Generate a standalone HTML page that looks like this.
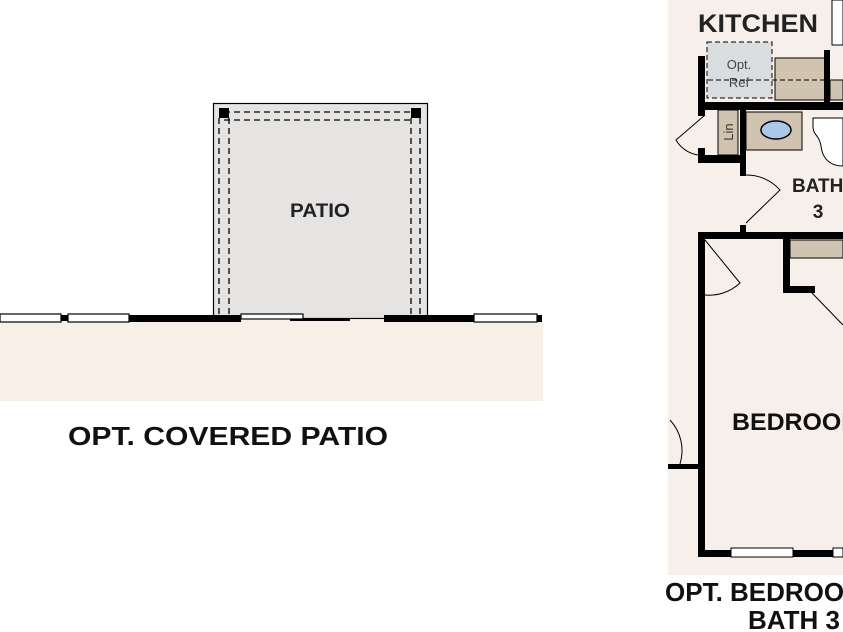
<!DOCTYPE html>
<html><head><meta charset="utf-8"><style>html,body{margin:0;padding:0;background:#fff}svg{display:block}</style></head>
<body>
<svg width="843" height="632" viewBox="0 0 843 632" xmlns="http://www.w3.org/2000/svg" font-family="Liberation Sans, Arial, sans-serif" font-weight="bold">
<rect x="0" y="0" width="843" height="632" fill="#fff"/>
<rect x="0" y="320" width="543" height="81" fill="#f8f0e7"/>
<rect x="213.5" y="103.5" width="214" height="215" fill="#e6e4e3" stroke="#000" stroke-width="1.2"/>
<g stroke="#000" stroke-width="1.3" stroke-dasharray="6,4" fill="none">
<line x1="224" y1="112" x2="414" y2="112"/>
<line x1="224" y1="120" x2="414" y2="120"/>
<line x1="219" y1="118" x2="219" y2="316"/>
<line x1="229" y1="118" x2="229" y2="316"/>
<line x1="411" y1="118" x2="411" y2="316"/>
<line x1="420" y1="118" x2="420" y2="316"/>
</g>
<rect x="219" y="108" width="10" height="10" fill="#000"/>
<rect x="411" y="108" width="10" height="10" fill="#000"/>
<text x="290" y="217" font-size="19" textLength="60" lengthAdjust="spacingAndGlyphs" fill="#222">PATIO</text>
<rect x="128" y="315" width="113" height="7" fill="#000"/>
<rect x="384" y="315" width="92" height="7" fill="#000"/>
<rect x="536" y="315" width="6" height="7" fill="#000"/>
<rect x="61" y="315" width="8" height="6" fill="#000"/>
<g fill="#fff" stroke="#000" stroke-width="1.2">
<rect x="0" y="314" width="61" height="8"/>
<rect x="68" y="314" width="61" height="8"/>
<rect x="474" y="314" width="63" height="8"/>
<rect x="241" y="314" width="62" height="5"/>
</g>
<line x1="290" y1="320" x2="350" y2="320" stroke="#000" stroke-width="2"/>
<text x="68" y="445" font-size="26" textLength="320" lengthAdjust="spacingAndGlyphs" fill="#111">OPT. COVERED PATIO</text>

<rect x="668" y="0" width="175" height="575" fill="#f7efe9"/>
<text x="698" y="32" font-size="25" textLength="120" lengthAdjust="spacingAndGlyphs" fill="#222">KITCHEN</text>
<rect x="832" y="0" width="11" height="45" fill="#fff" stroke="#000" stroke-width="1"/>
<rect x="707" y="42" width="65" height="56" fill="#d9dde0" stroke="#000" stroke-width="1" stroke-dasharray="5,3"/>
<text x="739" y="69" font-size="13" font-weight="normal" text-anchor="middle" fill="#444">Opt.</text>
<text x="739" y="87" font-size="13" font-weight="normal" text-anchor="middle" fill="#444">Ref</text>
<rect x="775" y="58" width="50" height="42" fill="#d0c4b1" stroke="#000" stroke-width="1"/>
<rect x="830" y="80" width="13" height="20" fill="#d0c4b1" stroke="#000" stroke-width="1"/>
<line x1="700" y1="80" x2="843" y2="80" stroke="#000" stroke-width="1" stroke-dasharray="5,3"/>
<g fill="#000">
<rect x="824" y="50" width="6" height="56"/>
<rect x="698" y="56" width="7" height="60"/>
<rect x="698" y="102" width="145" height="8"/>
<rect x="740" y="102" width="6" height="74"/>
<rect x="698" y="155" width="48" height="8"/>
<rect x="698" y="148" width="7" height="15"/>
<rect x="740" y="225" width="6" height="12"/>
<rect x="698" y="232" width="145" height="7"/>
<rect x="783" y="232" width="7" height="60"/>
<rect x="783" y="286" width="32" height="7"/>
<rect x="698" y="232" width="7" height="325"/>
<rect x="698" y="550" width="145" height="7"/>
<rect x="668" y="464" width="32" height="5"/>
</g>
<rect x="718" y="110" width="20" height="45" fill="#d0c4b1" stroke="#000" stroke-width="1"/>
<text x="733" y="132" font-size="13" font-weight="normal" fill="#333" transform="rotate(-90 733 132)" text-anchor="middle">Lin</text>
<rect x="746" y="112" width="56" height="38" fill="#d0c4b1" stroke="#000" stroke-width="1"/>
<ellipse cx="776" cy="130" rx="15" ry="9" fill="#a9c8e8" stroke="#000" stroke-width="1.5"/>
<path d="M813 118 h30 v48 c-8 0 -20 -3 -22 -20 c-2 -12 -8 -10 -8 -20 z" fill="#fff" stroke="#000" stroke-width="1"/>
<rect x="790" y="240" width="53" height="18" fill="#d0c4b1" stroke="#000" stroke-width="1"/>
<line x1="790" y1="258" x2="843" y2="258" stroke="#000" stroke-width="1" stroke-dasharray="5,3"/>
<g fill="none" stroke="#000" stroke-width="1">
<path d="M705 115 L676 140 A30 30 0 0 0 705 155"/>
<path d="M746 223 L780 190 A45 45 0 0 0 746 175"/>
<path d="M705 240 L740 283 A45 45 0 0 1 705 295"/>
<path d="M812 293 L843 325"/>
<path d="M670 420 A45 45 0 0 1 680 464"/>
</g>
<g fill="#fff" stroke="#000" stroke-width="1">
<rect x="731" y="548" width="62" height="9"/>
<rect x="833" y="548" width="10" height="9"/>
</g>
<text x="792" y="192" font-size="19" fill="#222">BATH</text>
<text x="818" y="218" font-size="19" fill="#222" text-anchor="middle">3</text>
<text x="732" y="430" font-size="24" textLength="130" lengthAdjust="spacingAndGlyphs" fill="#111">BEDROOM</text>
<text x="665" y="601" font-size="26" fill="#111">OPT. BEDROOM</text>
<text x="748" y="629" font-size="26" fill="#111">BATH 3</text>
</svg>
</body></html>
